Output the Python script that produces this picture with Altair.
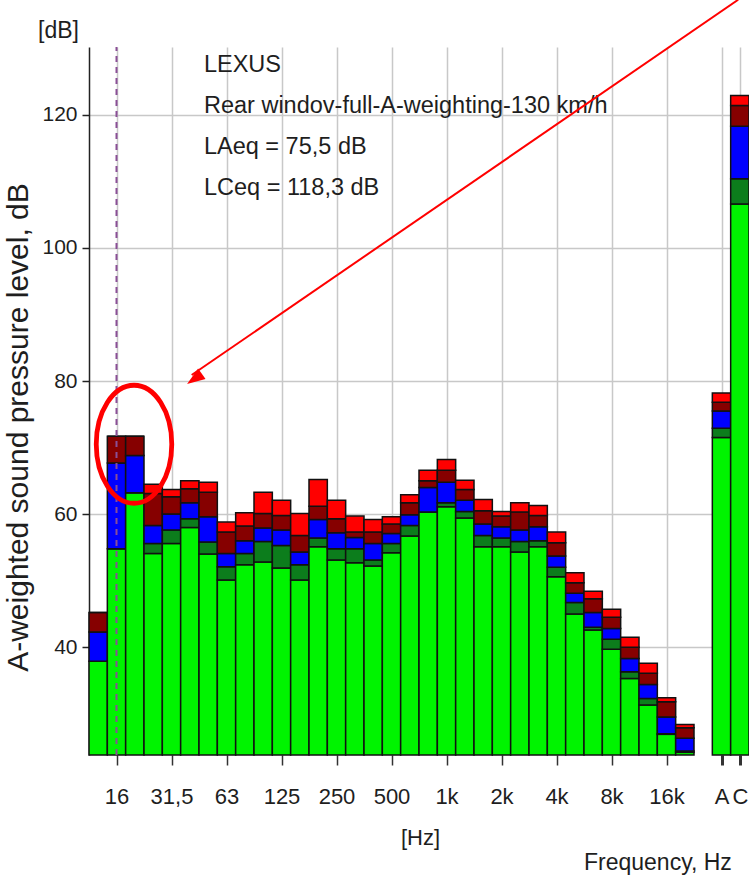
import altair as alt
import pandas as pd

# Third-octave bands, then the two overall levels
bands = ["12,5", "16", "20", "25", "31,5", "40", "50", "63", "80", "100", "125",
         "160", "200", "250", "315", "400", "500", "630", "800", "1k", "1,25k",
         "1,6k", "2k", "2,5k", "3,15k", "4k", "5k", "6,3k", "8k", "10k", "12,5k",
         "16k", "20k"]
totals = ["A", "C"]

# Upper edge (dB) of each stacked layer, bottom to top, per band (+ A, C)
green_top = [37.9, 54.8, 63.2, 54.1, 55.6, 58.0, 54.0, 50.1, 52.4, 52.8, 51.9,
             50.1, 55.1, 53.1, 52.7, 52.2, 54.2, 56.7, 60.3, 61.1, 59.4,
             55.1, 55.1, 54.3, 55.1, 50.6, 45.0, 42.6, 39.7, 35.3, 31.3,
             26.9, 24.2, 71.5, 106.6]
dkgreen_top = [37.9, 54.8, 63.2, 55.6, 57.6, 59.3, 55.8, 52.1, 54.1, 55.9, 55.3,
               52.4, 56.4, 54.8, 54.8, 53.1, 55.6, 58.3, 60.3, 61.7, 60.4,
               56.8, 56.4, 55.9, 56.0, 52.0, 46.7, 43.0, 41.2, 36.3, 32.3,
               27.0, 24.4, 72.9, 110.4]
blue_top = [42.3, 67.7, 68.8, 58.3, 60.0, 61.7, 59.6, 54.1, 56.0, 57.9, 57.6,
            54.3, 59.2, 57.2, 56.5, 55.6, 57.1, 59.9, 64.0, 64.8, 62.1,
            58.5, 58.1, 57.6, 58.1, 53.7, 48.1, 45.2, 42.8, 38.3, 34.4,
            29.5, 26.3, 75.5, 118.3]
dkred_top = [45.2, 71.7, 71.7, 63.1, 62.6, 63.8, 63.3, 57.3, 58.2, 60.1, 59.8,
             56.8, 61.2, 59.3, 57.3, 57.3, 58.5, 61.7, 65.0, 66.6, 63.7,
             60.5, 59.7, 60.3, 59.8, 55.7, 49.7, 47.3, 44.5, 40.0, 36.1,
             31.8, 27.9, 76.8, 121.4]
red_top = [45.2, 71.7, 71.7, 64.5, 63.7, 65.0, 64.8, 58.8, 60.2, 63.3, 62.1,
           60.1, 65.2, 62.1, 59.7, 59.2, 59.6, 62.9, 66.6, 68.2, 65.1,
           62.2, 60.4, 61.7, 61.3, 57.3, 51.2, 48.4, 45.7, 41.5, 37.6,
           32.4, 28.4, 78.2, 122.9]

tick_labels = ["16", "31,5", "63", "125", "250", "500", "1k", "2k", "4k",
               "8k", "16k", "A", "C"]

note_lines = ["LEXUS", "Rear windov-full-A-weighting-130 km/h",
              "LAeq = 75,5 dB", "LCeq = 118,3 dB"]

Y_MIN, Y_MAX = 23.8, 130.2
FONT = "Liberation Sans, Arial, sans-serif"
INK = "#1e1e1e"

# Slot index along the x axis: bands first, one empty slot, then A and C
labels_all = bands + totals
slots = list(range(len(bands))) + [len(bands) + 1 + j for j in range(len(totals))]
n_slots = len(bands) + 1 + len(totals)

layers = [("g", green_top), ("dg", dkgreen_top), ("b", blue_top),
          ("dr", dkred_top), ("r", red_top)]
rows = []
for i, (lab, s) in enumerate(zip(labels_all, slots)):
    low = Y_MIN
    for key, tops in layers:
        rows.append({"band": lab, "x0": s, "x1": s + 1, "lo": low,
                     "hi": tops[i], "layer": key})
        low = tops[i]
bars_df = pd.DataFrame(rows)

tick_pos = [slots[labels_all.index(t)] + 0.5 for t in tick_labels]
label_expr = ""
for p, t in zip(tick_pos, tick_labels):
    label_expr += f"datum.value == {p} ? '{t}' : "
label_expr += "''"

x_scale = alt.Scale(domain=[0, n_slots], nice=False, zero=False)
y_scale = alt.Scale(domain=[Y_MIN, Y_MAX], nice=False, zero=False)

x_axis = alt.Axis(
    values=tick_pos, labelExpr=label_expr, grid=True, gridColor="#c8c8c8",
    gridWidth=1.5, domain=False, tickColor="#333333", tickSize=10,
    tickWidth={"condition": {"test": f"datum.value > {len(bands)}", "value": 3},
               "value": 1.5},
    labelFont=FONT, labelFontSize=22, labelColor=INK,
    labelBaseline="alphabetic", labelPadding=38, labelAngle=0,
    title="[Hz]", titleFont=FONT, titleFontSize=22, titleFontWeight="normal",
    titleColor=INK, titleX=331, titleY=89, titleBaseline="alphabetic",
    titleAnchor="start", titleAlign="center")

y_axis = alt.Axis(
    values=[40, 60, 80, 100, 120], grid=True, gridColor="#c8c8c8", gridWidth=1.5,
    domain=True, domainColor="#222222", domainWidth=1.5,
    tickColor="#222222", tickSize=7, tickWidth=1.5,
    labelFont=FONT, labelFontSize=21, labelColor=INK, labelPadding=5,
    labelBaseline="middle",
    title="A-weighted sound pressure level, dB", titleFont=FONT,
    titleFontSize=30, titleFontWeight="normal", titleColor=INK,
    titleAngle=270, titleX=-71, titleY=380, titleAlign="center",
    titleBaseline="middle", titleAnchor="start")

bars = alt.Chart(bars_df).mark_rect(stroke="#111111", strokeWidth=1.5).encode(
    x=alt.X("x0:Q", scale=x_scale, axis=x_axis),
    x2="x1:Q",
    y=alt.Y("lo:Q", scale=y_scale, axis=y_axis),
    y2="hi:Q",
    color=alt.Color("layer:N", legend=None, scale=alt.Scale(
        domain=["g", "dg", "b", "dr", "r"],
        range=["#00f400", "#0c7d1c", "#0000ff", "#860000", "#ff0000"])),
)

# dashed marker at the 16 Hz band
marker = alt.Chart(pd.DataFrame({"x": [tick_pos[0]], "lo": [Y_MIN], "hi": [Y_MAX]})).mark_rule(
    color="#8a4f96", strokeWidth=2, strokeDash=[6, 5]).encode(
    x=alt.X("x:Q", scale=x_scale), y=alt.Y("lo:Q", scale=y_scale), y2="hi:Q")

notes = alt.Chart(pd.DataFrame({"x": [6.27], "y": [126.4],
                                "t": [note_lines]})).mark_text(
    align="left", baseline="alphabetic", font=FONT, fontSize=23.5,
    lineHeight=41, color=INK).encode(
    x=alt.X("x:Q", scale=x_scale), y=alt.Y("y:Q", scale=y_scale), text="t")

side_text = alt.Chart(pd.DataFrame({
    "x": [-2.78, 27.0], "y": [131.6, 6.5], "t": ["[dB]", "Frequency, Hz"]
})).mark_text(align="left", baseline="alphabetic", font=FONT, fontSize=23,
              color=INK).encode(
    x=alt.X("x:Q", scale=x_scale), y=alt.Y("y:Q", scale=y_scale), text="t")

# red highlight: ellipse round the low bands and an arrow pointing at it
ring = alt.Chart(pd.DataFrame({"x": [2.455], "y": [70.5]})).mark_point(
    shape="M0,-1A0.64,1,0,1,1,0,1A0.64,1,0,1,1,0,-1Z", size=13924,
    filled=False, stroke="#ff0000", strokeWidth=4.8, opacity=1).encode(
    x=alt.X("x:Q", scale=x_scale), y=alt.Y("y:Q", scale=y_scale))

arrow_line = alt.Chart(pd.DataFrame({"x": [35.41], "y": [137.3],
                                     "x2": [5.6], "y2": [80.9]})).mark_rule(
    color="#ff0000", strokeWidth=2).encode(
    x=alt.X("x:Q", scale=x_scale), y=alt.Y("y:Q", scale=y_scale),
    x2="x2:Q", y2="y2:Q")

arrow_head = alt.Chart(pd.DataFrame({"x": [5.35], "y": [79.55]})).mark_point(
    shape="M0,0L0.36,1L-0.36,1Z", size=1296, filled=True, color="#ff0000",
    angle=235, opacity=1).encode(
    x=alt.X("x:Q", scale=x_scale), y=alt.Y("y:Q", scale=y_scale))

chart = alt.layer(bars, marker, notes, side_text, ring, arrow_line, arrow_head).properties(
    width=660, height=708,
    autosize=alt.AutoSizeParams(type="none"),
    padding={"left": 89, "top": 47, "right": 0, "bottom": 122},
    background="white",
).configure_view(stroke=None)

chart.save("out.html", embed_options={"renderer": "svg", "actions": False})
